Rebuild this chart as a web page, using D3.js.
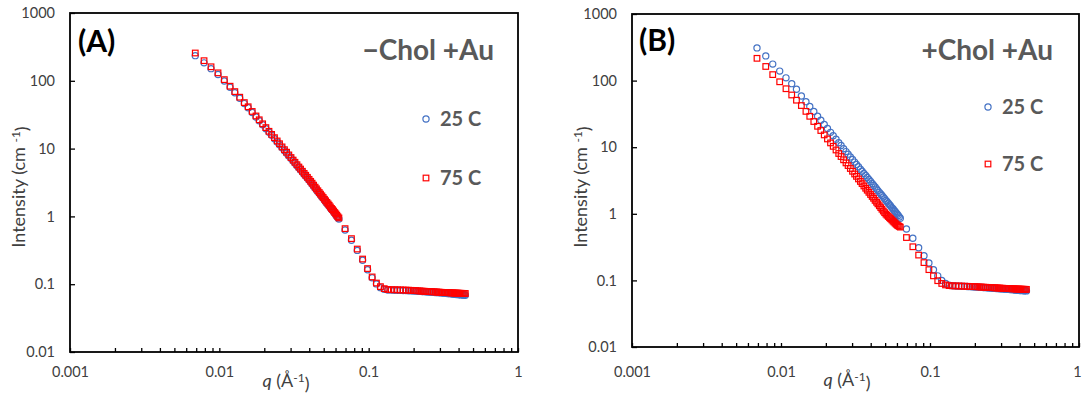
<!DOCTYPE html>
<html><head><meta charset="utf-8">
<script src="https://cdn.jsdelivr.net/npm/d3@7"></script>
<style>
body{margin:0;background:#fff}
svg{display:block}
text{font-family:Lato,"Open Sans",sans-serif}
</style>
</head><body><svg id="chart" width="1082" height="394"></svg>
<script>
// ---------------- data ----------------
const qValues = [
 0.0069,0.0079,0.0088,0.0098,0.0108,0.0118,0.0127,0.0137,0.0147,0.0156,
 0.0166,0.0176,0.0185,0.0195,0.0205,0.0215,0.0224,0.0234,0.0244,0.0253,
 0.0263,0.0273,0.0282,0.0292,0.0302,0.0312,0.0321,0.0331,0.0341,0.0350,
 0.0360,0.0370,0.0379,0.0389,0.0399,0.0409,0.0418,0.0428,0.0438,0.0447,
 0.0457,0.0467,0.0476,0.0486,0.0496,0.0506,0.0515,0.0525,0.0535,0.0544,
 0.0554,0.0564,0.0573,0.0583,0.0593,0.0603,0.0612,0.0622,0.0632,
 0.0695,0.0767,0.0839,0.0911,0.0983,0.1055,0.1127,0.1199,0.1271,0.1343,
 0.1415,0.1487,0.1559,0.1631,0.1703,0.1775,0.1847,0.1919,0.1991,0.2063,
 0.2135,0.2207,0.2279,0.2351,0.2423,0.2495,0.2567,0.2639,0.2711,0.2783,
 0.2855,0.2927,0.2999,0.3071,0.3143,0.3215,0.3287,0.3359,0.3431,0.3503,
 0.3575,0.3647,0.3719,0.3791,0.3863,0.3935,0.4007,0.4079,0.4151,0.4223,
 0.4295,0.4367,0.4439
];

// Panel A (-Chol +Au), 25 C
const intensityA25 = [
 235,184,151,124,99.5,80.0,66.8,55.3,46.1,40.0,
 34.1,29.3,25.7,22.4,19.7,17.4,15.7,14.0,12.5,11.4,
 10.25,9.31,8.55,7.80,7.13,6.54,6.07,5.60,5.17,4.82,
 4.47,4.16,3.90,3.64,3.40,3.18,2.98,2.79,2.61,2.46,
 2.31,2.17,2.06,1.94,1.83,1.73,1.64,1.55,1.48,1.41,
 1.33,1.26,1.22,1.16,1.10,1.05,1.00,0.955,0.915,
 0.63,0.445,0.315,0.225,0.163,0.124,0.101,0.089,0.084,0.0822,
 0.0818,0.0816,0.0813,0.0811,0.0808,0.0805,0.0802,0.0798,0.0795,0.0791,
 0.0787,0.0783,0.0779,0.0776,0.0772,0.0768,0.0765,0.0762,0.0759,0.0756,
 0.0753,0.0750,0.0748,0.0745,0.0741,0.0738,0.0736,0.0731,0.0729,0.0725,
 0.0724,0.0718,0.0716,0.0712,0.0705,0.0710,0.0700,0.0706,0.0695,0.0702,
 0.0690,0.0697,0.0688
];
// Panel A (-Chol +Au), 75 C
const intensityA75 = [
 257,198,161,131,104,83.2,69.3,57.3,47.7,41.4,
 35.3,30.3,26.6,23.2,20.4,18.0,16.2,14.5,12.97,11.8,
 10.6,9.64,8.85,8.07,7.38,6.77,6.28,5.79,5.35,4.99,
 4.63,4.31,4.04,3.77,3.52,3.29,3.09,2.89,2.70,2.55,
 2.39,2.25,2.13,2.01,1.90,1.79,1.70,1.61,1.53,1.46,
 1.38,1.31,1.26,1.20,1.14,1.09,1.04,0.99,0.95,
 0.66,0.47,0.33,0.235,0.17,0.128,0.104,0.092,0.086,0.0835,
 0.0830,0.0828,0.0826,0.0823,0.0821,0.0818,0.0816,0.0812,0.0809,0.0805,
 0.0798,0.0795,0.0791,0.0788,0.0784,0.0781,0.0778,0.0775,0.0772,0.0769,
 0.0767,0.0764,0.0762,0.0759,0.0757,0.0755,0.0753,0.0751,0.0749,0.0747,
 0.0745,0.0744,0.0742,0.0741,0.0739,0.0738,0.0736,0.0735,0.0734,0.0733,
 0.0732,0.0731,0.0730
];
// Panel B (+Chol +Au), 25 C
const intensityB25 = [
 310,235,177,139,110,90,74,58.7,48.3,40.9,
 34.4,29.2,25.4,22.0,19.1,16.7,14.9,13.2,11.7,10.6,
 9.51,8.59,7.87,7.15,6.52,5.97,5.52,5.08,4.68,4.36,
 4.04,3.75,3.51,3.27,3.05,2.85,2.69,2.52,2.36,2.23,
 2.10,1.98,1.88,1.78,1.68,1.59,1.52,1.44,1.37,1.31,
 1.24,1.19,1.135,1.08,1.03,0.984,0.942,0.898,0.857,
 0.59,0.43,0.31,0.235,0.183,0.145,0.117,0.100,0.090,0.085,
 0.0830,0.0825,0.0820,0.0817,0.0813,0.0810,0.0806,0.0802,0.0798,0.0794,
 0.0790,0.0786,0.0782,0.0778,0.0774,0.0770,0.0767,0.0764,0.0760,0.0757,
 0.0754,0.0751,0.0748,0.0745,0.0742,0.0739,0.0737,0.0733,0.0731,0.0727,
 0.0726,0.0721,0.0719,0.0715,0.0712,0.0714,0.0706,0.0710,0.0702,0.0707,
 0.0698,0.0703,0.0696
];
// Panel B (+Chol +Au), 75 C
const intensityB75 = [
 216,163,123,96,75.5,60.8,50.8,42.2,34.5,29.1,
 24.3,20.6,17.8,15.3,13.3,11.6,10.3,9.08,8.04,7.24,
 6.47,5.81,5.30,4.79,4.35,3.96,3.65,3.34,3.06,2.84,
 2.62,2.42,2.26,2.10,1.95,1.82,1.71,1.59,1.49,1.41,
 1.32,1.24,1.17,1.10,1.04,0.989,0.951,0.911,0.874,0.843,
 0.810,0.778,0.751,0.723,0.697,0.675,0.661,0.646,0.631,
 0.44,0.32,0.24,0.185,0.145,0.117,0.099,0.090,0.0855,0.0835,
 0.0829,0.0826,0.0824,0.0821,0.0818,0.0815,0.0812,0.0809,0.0806,0.0802,
 0.0799,0.0795,0.0792,0.0789,0.0786,0.0783,0.0780,0.0777,0.0774,0.0772,
 0.0769,0.0767,0.0764,0.0762,0.0760,0.0758,0.0756,0.0754,0.0752,0.0750,
 0.0748,0.0747,0.0745,0.0744,0.0742,0.0741,0.0739,0.0738,0.0737,0.0736,
 0.0735,0.0734,0.0733
];

const seriesNames = ["25 C", "75 C"];
const panelLabels = ["(A)", "(B)"];
const panelTitles = ["\u2212Chol +Au", "+Chol +Au"];
const xTickLabels = ["0.001", "0.01", "0.1", "1"];
const yTickLabels = ["0.01", "0.1", "1", "10", "100", "1000"];

// ---------------- layout ----------------
const svg = d3.select("#chart");
const BLUE = "#4472C4", RED = "#FF0000", GRAY = "#595959", TICKC = "#404040";

const panels = [
  {label: panelLabels[0], title: panelTitles[0], s25: intensityA25, s75: intensityA75,
   left: 70, right: 518, top: 13, bottom: 352,
   labelX: 78, labelY: 41, titleRight: 494, titleY: 50,
   legendX: 426, legendY: [119, 178], yTitleX: 19, yTitleY: 187, xTitleX: 286, xTitleY: 381, xLabelPad: 15},
  {label: panelLabels[1], title: panelTitles[1], s25: intensityB25, s75: intensityB75,
   left: 632, right: 1079, top: 14, bottom: 347,
   labelX: 639, labelY: 40, titleRight: 1053, titleY: 50,
   legendX: 988, legendY: [107, 164], yTitleX: 581, yTitleY: 187, xTitleX: 847, xTitleY: 380, xLabelPad: 20}
];

const xDecades = xTickLabels.map(Number);
const yDecades = yTickLabels.map(Number);

panels.forEach(p => {
  const g = svg.append("g");
  const x = d3.scaleLog().domain([xDecades[0], xDecades[xDecades.length - 1]]).range([p.left, p.right]);
  const y = d3.scaleLog().domain([yDecades[0], yDecades[yDecades.length - 1]]).range([p.bottom, p.top]);

  const isDecade = d => Math.abs(Math.log10(d) - Math.round(Math.log10(d))) < 1e-9;
  const labelFor = (list, d) => {
    const i = list.findIndex(v => Math.abs(Math.log10(v) - Math.log10(d)) < 1e-9);
    return i >= 0 ? list[i] : "";
  };

  // x axis (minor ticks inside)
  const xAxis = d3.axisBottom(x).tickValues(x.ticks()).tickSizeInner(-4).tickSizeOuter(0)
    .tickPadding(p.xLabelPad).tickFormat(d => isDecade(d) ? labelFor(xTickLabels, d) : "");
  const gx = g.append("g").attr("transform", `translate(0,${p.bottom})`).call(xAxis);
  gx.select(".domain").remove();
  gx.selectAll(".tick line").attr("stroke", "#000").attr("stroke-width", 1.3);
  gx.selectAll(".tick text").attr("fill", TICKC).style("font-size", "14.5px");
  // keep the right-most label inside the page
  gx.selectAll(".tick text").filter(d => x(d) > 1075).attr("dx", "-2");

  // y axis (major ticks inside)
  const yAxis = d3.axisLeft(y).tickValues(yDecades).tickSizeInner(-5).tickSizeOuter(0)
    .tickPadding(15).tickFormat(d => labelFor(yTickLabels, d));
  const gy = g.append("g").attr("transform", `translate(${p.left},0)`).call(yAxis);
  gy.select(".domain").remove();
  gy.selectAll(".tick line").attr("stroke", "#000").attr("stroke-width", 1.3);
  gy.selectAll(".tick text").attr("fill", TICKC).style("font-size", "14.5px");

  // frame
  g.append("rect").attr("x", p.left).attr("y", p.top)
    .attr("width", p.right - p.left).attr("height", p.bottom - p.top)
    .attr("fill", "none").attr("stroke", "#000").attr("stroke-width", 1.8);

  // data: 25 C circles, 75 C squares
  const pts25 = qValues.map((q, i) => [q, p.s25[i]]);
  const pts75 = qValues.map((q, i) => [q, p.s75[i]]);
  const r = 3.1, sq = 5.6;
  g.append("g").selectAll("circle").data(pts25).join("circle")
    .attr("cx", d => x(d[0])).attr("cy", d => y(d[1])).attr("r", r)
    .attr("fill", "none").attr("stroke", BLUE).attr("stroke-width", 1.2);
  g.append("g").selectAll("rect").data(pts75).join("rect")
    .attr("x", d => x(d[0]) - sq / 2).attr("y", d => y(d[1]) - sq / 2)
    .attr("width", sq).attr("height", sq)
    .attr("fill", "none").attr("stroke", RED).attr("stroke-width", 1.2);

  // panel label and title
  g.append("text").attr("x", p.labelX).attr("y", p.labelY).attr("dy", "0.35em")
    .style("font-size", "30px").style("font-weight", "bold").attr("fill", "#000").text(p.label);
  g.append("text").attr("x", p.titleRight).attr("y", p.titleY).attr("dy", "0.36em")
    .attr("text-anchor", "end").style("font-size", "28px").style("font-weight", "bold")
    .attr("fill", GRAY).text(p.title);

  // legend
  g.append("circle").attr("cx", p.legendX).attr("cy", p.legendY[0]).attr("r", r)
    .attr("fill", "none").attr("stroke", BLUE).attr("stroke-width", 1.2);
  g.append("rect").attr("x", p.legendX - sq / 2).attr("y", p.legendY[1] - sq / 2)
    .attr("width", sq).attr("height", sq)
    .attr("fill", "none").attr("stroke", RED).attr("stroke-width", 1.2);
  seriesNames.forEach((name, i) => {
    g.append("text").attr("x", p.legendX + 14).attr("y", p.legendY[i]).attr("dy", "0.36em")
      .style("font-size", "20px").style("font-weight", "bold").attr("fill", GRAY).text(name);
  });

  // y title
  const yt = g.append("text").attr("transform", `translate(${p.yTitleX},${p.yTitleY}) rotate(-90)`)
    .attr("text-anchor", "middle").attr("dy", "0.35em").style("font-size", "18px").attr("fill", TICKC);
  yt.append("tspan").text("Intensity (cm ");
  yt.append("tspan").attr("dy", "-0.45em").style("font-size", "12px").text("-1");
  yt.append("tspan").attr("dy", "0.45em").text(")");

  // x title
  const xt = g.append("text").attr("x", p.xTitleX).attr("y", p.xTitleY).attr("dy", "0.35em")
    .attr("text-anchor", "middle").style("font-size", "18px").attr("fill", TICKC);
  xt.append("tspan").style("font-style", "italic").text("q");
  xt.append("tspan").text(" (\u00C5");
  xt.append("tspan").attr("dy", "-0.45em").style("font-size", "12px").text("-1");
  xt.append("tspan").attr("dy", "0.45em").text(")");
});
</script>
</body></html>
